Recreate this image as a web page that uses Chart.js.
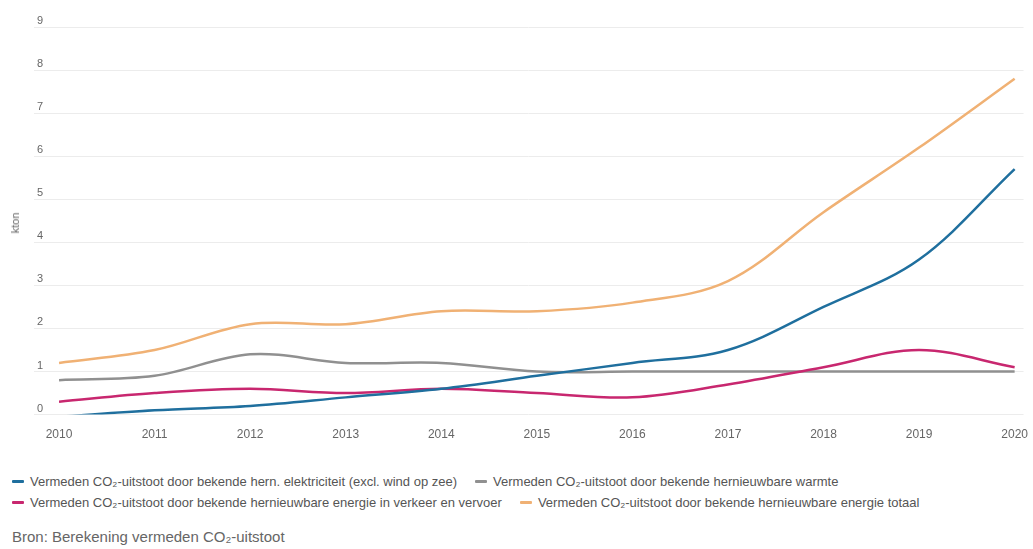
<!DOCTYPE html>
<html>
<head>
<meta charset="utf-8">
<script src="https://cdn.jsdelivr.net/npm/chart.js@4/dist/chart.umd.min.js"></script>
<style>
    body { margin: 0; background: #fff; font-family: "Liberation Sans", Arial, sans-serif; }
    #wrap { position: relative; width: 1033px; height: 549px; overflow: hidden; }
    #chartBox { position: absolute; left: 0; top: 0; width: 1033px; height: 447px; }
    #ytitle { position: absolute; left: 8px; top: 223px; font-size: 11px; color: #666;
              transform: translate(-50%, -50%) rotate(-90deg); transform-origin: center; margin-left: 7px; }
    #legend { position: absolute; left: 12px; top: 471px; font-size: 13px; color: #555; }
    .row { display: flex; height: 21px; align-items: center; }
    .item { display: flex; align-items: center; margin-right: 18px; white-space: nowrap; }
    .swatch { width: 12px; height: 3px; margin-right: 6px; border-radius: 1px; }
    #source { position: absolute; left: 12px; top: 528px; font-size: 15px; color: #666; }
</style>
</head>
<body>
<div id="wrap">
    <div id="chartBox"><canvas id="chart"></canvas></div>
    <div id="ytitle">kton</div>
    <div id="legend"></div>
    <div id="source">Bron: Berekening vermeden CO₂-uitstoot</div>
</div>
<script>
const years = [2010, 2011, 2012, 2013, 2014, 2015, 2016, 2017, 2018, 2019, 2020];
const yTicks = [0, 1, 2, 3, 4, 5, 6, 7, 8, 9];

const seriesNames = [
    'Vermeden CO₂-uitstoot door bekende hern. elektriciteit (excl. wind op zee)',
    'Vermeden CO₂-uitstoot door bekende hernieuwbare warmte',
    'Vermeden CO₂-uitstoot door bekende hernieuwbare energie in verkeer en vervoer',
    'Vermeden CO₂-uitstoot door bekende hernieuwbare energie totaal'
];
const elektriciteit = [-0.05, 0.1, 0.2, 0.4, 0.6, 0.9, 1.2, 1.5, 2.5, 3.6, 5.7];
const warmte = [0.8, 0.9, 1.4, 1.2, 1.2, 1.0, 1.0, 1.0, 1.0, 1.0, 1.0];
const vervoer = [0.3, 0.5, 0.6, 0.5, 0.6, 0.5, 0.4, 0.7, 1.1, 1.5, 1.1];
const totaal = [1.2, 1.5, 2.1, 2.1, 2.4, 2.4, 2.6, 3.1, 4.7, 6.2, 7.8];

const colors = ['#1f6f9e', '#909090', '#c8276f', '#f0b174'];
const seriesData = [elektriciteit, warmte, vervoer, totaal];

// Build legend (two rows, like the reference)
function buildLegend() {
    const legend = document.getElementById('legend');
    const rows = [[0, 1], [2, 3]];
    rows.forEach(r => {
        const row = document.createElement('div');
        row.className = 'row';
        r.forEach(i => {
            const item = document.createElement('div');
            item.className = 'item';
            const sw = document.createElement('span');
            sw.className = 'swatch';
            sw.style.background = colors[i];
            item.appendChild(sw);
            item.appendChild(document.createTextNode(seriesNames[i]));
            row.appendChild(item);
        });
        legend.appendChild(row);
    });
}

buildLegend();

const datasets = seriesData.map((vals, i) => ({
    label: seriesNames[i],
    data: vals.map((v, j) => ({ x: years[j], y: v })),
    borderColor: colors[i],
    backgroundColor: colors[i],
    borderWidth: 2.5,
    pointRadius: 0,
    tension: 0.35,
    fill: false,
    order: [1, 3, 2, 4][i]
}));

new Chart(document.getElementById('chart'), {
    type: 'line',
    data: { datasets: datasets },
    options: {
        responsive: true,
        maintainAspectRatio: false,
        animation: false,
        layout: { padding: { left: 28, right: 2, top: 27, bottom: 0 } },
        plugins: { legend: { display: false }, tooltip: { enabled: false } },
        scales: {
            x: {
                type: 'linear',
                min: 2009.738,
                max: 2020.093,
                afterBuildTicks: axis => { axis.ticks = years.map(v => ({ value: v })); },
                grid: { display: false },
                border: { display: false },
                ticks: {
                    color: '#666',
                    font: { family: 'Liberation Sans', size: 12 },
                    padding: 5,
                    maxRotation: 0,
                    callback: v => String(v)
                }
            },
            y: {
                min: 0,
                max: 9,
                afterBuildTicks: axis => { axis.ticks = yTicks.map(v => ({ value: v })); },
                grid: { color: '#ececec', drawTicks: false },
                border: { display: false },
                ticks: {
                    mirror: true,
                    padding: 3,
                    labelOffset: -6,
                    color: '#666',
                    font: { family: 'Liberation Sans', size: 11 }
                }
            }
        }
    }
});
</script>
</body>
</html>
